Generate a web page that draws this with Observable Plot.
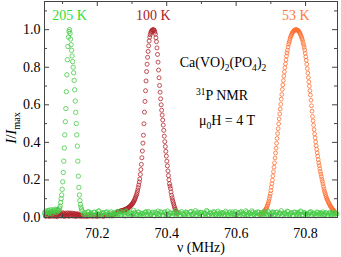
<!DOCTYPE html>
<html><head><meta charset="utf-8">
<script src="https://cdn.jsdelivr.net/npm/d3@7"></script>
<script src="https://cdn.jsdelivr.net/npm/@observablehq/plot@0.6"></script>
<style>html,body{margin:0;padding:0;background:#fff} svg{display:block}</style>
</head><body><div id="chart"></div>
<script>
// ---------- data (frequency in MHz, normalized intensity I/Imax) ----------
const tempLabels = ["205 K", "100 K", "53 K"];
const xTicks = [70.2, 70.4, 70.6, 70.8];
const xMinor = [70.1, 70.3, 70.5, 70.7];
const yTicks = [0, 0.2, 0.4, 0.6, 0.8, 1.0];
const yMinor = [0.1, 0.3, 0.5, 0.7, 0.9, 1.1];

// 205 K: left baseline, peak, right baseline (two interleaved sweeps)
const green205Left = [[70.048,.022],[70.050,.030],[70.052,.034],[70.054,.016],[70.056,.027],[70.058,.036],[70.060,.038],[70.062,.024],[70.064,.025],[70.066,.041],[70.068,.031],[70.070,.020],[70.072,.040],[70.074,.033],[70.076,.029],[70.078,.044],[70.080,.035],[70.082,.027],[70.084,.042],[70.086,.038],[70.088,.034]];
const green205Peak = [[70.0900,.040],[70.0915,.050],[70.0930,.060],[70.0945,.080],[70.0960,.100],[70.0975,.120],[70.0990,.150],[70.1005,.190],[70.1020,.240],[70.1035,.300],[70.1050,.370],[70.1065,.440],[70.1080,.510],[70.1095,.580],[70.1110,.670],[70.1125,.760],[70.1140,.840],[70.1155,.910],[70.1170,.960],[70.1185,.990],[70.1200,1.000],[70.1215,.980],[70.1230,.950],[70.1245,.920],[70.1260,.890],[70.1275,.860],[70.1290,.830],[70.1305,.800],[70.1320,.770],[70.1335,.730],[70.1350,.680],[70.1365,.620],[70.1380,.560],[70.1395,.500],[70.1410,.440],[70.1425,.380],[70.1440,.300],[70.1455,.220],[70.1470,.160],[70.1485,.120],[70.1500,.090],[70.1515,.070],[70.1530,.055],[70.1545,.045],[70.1560,.035]];
const green205Right = [[70.160,.018],[70.165,.026],[70.170,.012],[70.175,.031],[70.180,.020],[70.185,.015],[70.190,.028],[70.195,.010],[70.200,.022],[70.205,.035],[70.210,.016],[70.215,.024],[70.220,.009],[70.225,.027],[70.230,.019],[70.235,.013],[70.240,.030],[70.245,.021],[70.250,.011],[70.255,.025],[70.260,.017],[70.265,.033],[70.270,.014],[70.275,.023],[70.280,.008],[70.285,.029],[70.290,.019],[70.295,.026],[70.300,.012],[70.305,.038],[70.310,.020],[70.315,.015],[70.320,.027],[70.325,.010],[70.330,.022],[70.335,.018],[70.340,.031],[70.345,.013],[70.350,.024],[70.355,.016],[70.360,.028],[70.365,.009],[70.370,.021],[70.375,.034],[70.380,.017],[70.385,.025],[70.390,.012],[70.395,.030],[70.400,.019],[70.405,.014],[70.410,.026],[70.415,.011],[70.420,.023],[70.425,.036],[70.430,.018],[70.435,.027],[70.440,.010],[70.445,.022],[70.450,.015],[70.455,.029],[70.460,.020],[70.465,.013],[70.470,.032],[70.475,.017],[70.480,.024],[70.485,.009],[70.490,.028],[70.495,.019],[70.500,.026],[70.505,.012],[70.510,.021],[70.515,.037],[70.520,.016],[70.525,.025],[70.530,.011],[70.535,.030],[70.540,.018],[70.545,.023],[70.550,.014],[70.555,.027],[70.560,.020],[70.565,.010],[70.570,.033],[70.575,.017],[70.580,.024],[70.585,.013],[70.590,.029],[70.595,.019],[70.600,.015],[70.605,.026],[70.610,.011],[70.615,.031],[70.620,.022],[70.625,.016],[70.630,.028],[70.635,.012],[70.640,.021],[70.645,.035],[70.650,.018],[70.655,.025],[70.660,.010],[70.665,.027],[70.670,.019],[70.675,.014],[70.680,.032],[70.685,.020],[70.690,.016],[70.695,.024],[70.700,.012],[70.705,.029],[70.710,.018],[70.715,.026],[70.720,.011],[70.725,.023],[70.730,.036],[70.735,.017],[70.740,.021],[70.745,.013],[70.750,.030],[70.755,.019],[70.760,.025],[70.765,.010],[70.770,.028],[70.775,.016],[70.780,.022],[70.785,.034],[70.790,.014],[70.795,.027],[70.800,.019],[70.805,.012],[70.810,.024],[70.815,.031],[70.820,.017],[70.825,.020],[70.830,.009],[70.835,.026],[70.840,.022],[70.845,.015],[70.850,.029],[70.855,.018],[70.860,.023],[70.865,.012],[70.870,.027],[70.875,.016],[70.880,.021],[70.885,.025],[70.890,.019]];
const green205Right2 = [[70.1625,.022],[70.1675,.013],[70.1725,.029],[70.1775,.017],[70.1825,.024],[70.1875,.010],[70.1925,.027],[70.1975,.019],[70.2025,.033],[70.2075,.014],[70.2125,.021],[70.2175,.026],[70.2225,.011],[70.2275,.030],[70.2325,.018],[70.2375,.023],[70.2425,.008],[70.2475,.025],[70.2525,.016],[70.2575,.031],[70.2625,.020],[70.2675,.012],[70.2725,.028],[70.2775,.015],[70.2825,.035],[70.2875,.019],[70.2925,.024],[70.2975,.010],[70.3025,.022],[70.3075,.027],[70.3125,.013],[70.3175,.029],[70.3225,.017],[70.3275,.021],[70.3325,.009],[70.3375,.026],[70.3425,.018],[70.3475,.032],[70.3525,.014],[70.3575,.023],[70.3625,.011],[70.3675,.028],[70.3725,.020],[70.3775,.016],[70.3825,.030],[70.3875,.012],[70.3925,.025],[70.3975,.019],[70.4025,.034],[70.4075,.015],[70.4125,.022],[70.4175,.009],[70.4225,.027],[70.4275,.018],[70.4325,.024],[70.4375,.013],[70.4425,.031],[70.4475,.017],[70.4525,.020],[70.4575,.026],[70.4625,.010],[70.4675,.029],[70.4725,.016],[70.4775,.023],[70.4825,.036],[70.4875,.014],[70.4925,.021],[70.4975,.027],[70.5025,.012],[70.5075,.025],[70.5125,.018],[70.5175,.030],[70.5225,.011],[70.5275,.022],[70.5325,.019],[70.5375,.028],[70.5425,.015],[70.5475,.033],[70.5525,.020],[70.5575,.013],[70.5625,.026],[70.5675,.017],[70.5725,.024],[70.5775,.009],[70.5825,.029],[70.5875,.021],[70.5925,.016],[70.5975,.031],[70.6025,.012],[70.6075,.023],[70.6125,.027],[70.6175,.014],[70.6225,.020],[70.6275,.035],[70.6325,.018],[70.6375,.025],[70.6425,.010],[70.6475,.028],[70.6525,.016],[70.6575,.022],[70.6625,.030],[70.6675,.013],[70.6725,.026],[70.6775,.019],[70.6825,.024],[70.6875,.011],[70.6925,.032],[70.6975,.017],[70.7025,.021],[70.7075,.027],[70.7125,.014],[70.7175,.029],[70.7225,.018],[70.7275,.023],[70.7325,.009],[70.7375,.025],[70.7425,.020],[70.7475,.033],[70.7525,.015],[70.7575,.022],[70.7625,.012],[70.7675,.028],[70.7725,.019],[70.7775,.026],[70.7825,.016],[70.7875,.030],[70.7925,.013],[70.7975,.024],[70.8025,.021],[70.8075,.017],[70.8125,.027],[70.8175,.011],[70.8225,.023],[70.8275,.018],[70.8325,.029],[70.8375,.014],[70.8425,.025],[70.8475,.020],[70.8525,.016],[70.8575,.026],[70.8625,.012],[70.8675,.022],[70.8725,.019],[70.8775,.028],[70.8825,.015],[70.8875,.021]];

// 100 K: low-frequency background and main line
const red100Low = [[70.0500,.008],[70.0515,.016],[70.0530,.006],[70.0545,.020],[70.0560,.011],[70.0575,.024],[70.0590,.009],[70.0605,.018],[70.0620,.005],[70.0635,.022],[70.0650,.013],[70.0665,.025],[70.0680,.007],[70.0695,.019],[70.0710,.010],[70.0725,.023],[70.0740,.015],[70.0755,.006],[70.0770,.021],[70.0785,.012],[70.0800,.026],[70.0815,.008],[70.0830,.017],[70.0845,.004],[70.0860,.022],[70.0875,.014],[70.0890,.025],[70.0905,.009],[70.0920,.020],[70.0935,.011],[70.0950,.024],[70.0965,.007],[70.0980,.018],[70.0995,.013],[70.1010,.026],[70.1025,.010],[70.1040,.021],[70.1055,.005],[70.1070,.016],[70.1085,.023],[70.1100,.012],[70.1115,.019],[70.1130,.008],[70.1145,.025],[70.1160,.014],[70.1175,.020],[70.1190,.006],[70.1205,.022],[70.1220,.011],[70.1235,.024],[70.1250,.009],[70.1265,.017],[70.1280,.013],[70.1295,.023],[70.1310,.007],[70.1325,.019],[70.1340,.010],[70.1355,.021],[70.1370,.015],[70.1385,.005],[70.1400,.018],[70.1415,.012],[70.1430,.020],[70.1445,.008],[70.1460,.016],[70.1475,.011],[70.1490,.014],[70.1505,.006],[70.1520,.013],[70.1535,.009],[70.1550,.012],[70.1565,.007],[70.1580,.010],[70.162,.006],[70.166,.010],[70.170,.005],[70.174,.009],[70.178,.007],[70.182,.011],[70.186,.006],[70.190,.008],[70.194,.010],[70.198,.005],[70.202,.009],[70.206,.007],[70.210,.011],[70.214,.008],[70.218,.006],[70.222,.010],[70.226,.009],[70.230,.012],[70.234,.008],[70.238,.013],[70.242,.011],[70.246,.015],[70.250,.018],[70.254,.022]];
const red100Main = [[70.2580,.030],[70.2595,.031],[70.2610,.031],[70.2625,.032],[70.2640,.033],[70.2655,.033],[70.2670,.034],[70.2685,.035],[70.2700,.036],[70.2715,.037],[70.2730,.038],[70.2745,.038],[70.2760,.039],[70.2775,.040],[70.2790,.041],[70.2805,.043],[70.2820,.044],[70.2835,.045],[70.2850,.046],[70.2865,.048],[70.2880,.050],[70.2895,.052],[70.2910,.054],[70.2925,.056],[70.2940,.058],[70.2955,.061],[70.2970,.064],[70.2985,.067],[70.3000,.071],[70.3015,.074],[70.3030,.079],[70.3045,.083],[70.3060,.088],[70.3075,.094],[70.3090,.101],[70.3105,.108],[70.3120,.116],[70.3135,.124],[70.3150,.134],[70.3165,.146],[70.3180,.159],[70.3195,.173],[70.3210,.189],[70.3225,.205],[70.3240,.229],[70.3255,.255],[70.3270,.283],[70.3285,.318],[70.3300,.354],[70.3315,.396],[70.3330,.438],[70.3345,.499],[70.3360,.561],[70.3375,.618],[70.3390,.675],[70.3405,.727],[70.3420,.777],[70.3435,.816],[70.3450,.853],[70.3465,.884],[70.3480,.914],[70.3495,.940],[70.3510,.960],[70.3525,.973],[70.3540,.983],[70.3555,.990],[70.3570,.995],[70.3585,.998],[70.3600,.999],[70.3615,1.000],[70.3630,.998],[70.3645,.996],[70.3660,.987],[70.3675,.976],[70.3690,.957],[70.3705,.936],[70.3720,.903],[70.3735,.868],[70.3750,.827],[70.3765,.785],[70.3780,.744],[70.3795,.703],[70.3810,.667],[70.3825,.632],[70.3840,.600],[70.3855,.571],[70.3870,.545],[70.3885,.519],[70.3900,.492],[70.3915,.464],[70.3930,.433],[70.3945,.404],[70.3960,.378],[70.3975,.352],[70.3990,.327],[70.4005,.300],[70.4020,.275],[70.4035,.248],[70.4050,.223],[70.4065,.201],[70.4080,.180],[70.4095,.167],[70.4110,.154],[70.4125,.136],[70.4140,.118],[70.4155,.105],[70.4170,.092],[70.4185,.082],[70.4200,.072],[70.4215,.061],[70.4230,.052],[70.4245,.044],[70.4260,.036],[70.4275,.031],[70.4290,.026],[70.4305,.021]];

// 53 K line
const orange53 = [[70.6700,.015],[70.6715,.017],[70.6730,.018],[70.6745,.020],[70.6760,.022],[70.6775,.025],[70.6790,.027],[70.6805,.031],[70.6820,.034],[70.6835,.038],[70.6850,.043],[70.6865,.047],[70.6880,.053],[70.6895,.061],[70.6910,.069],[70.6925,.077],[70.6940,.087],[70.6955,.100],[70.6970,.113],[70.6985,.126],[70.7000,.143],[70.7015,.162],[70.7030,.180],[70.7045,.198],[70.7060,.221],[70.7075,.244],[70.7090,.268],[70.7105,.291],[70.7120,.317],[70.7135,.343],[70.7150,.369],[70.7165,.395],[70.7180,.421],[70.7195,.447],[70.7210,.473],[70.7225,.499],[70.7240,.525],[70.7255,.552],[70.7270,.578],[70.7285,.603],[70.7300,.630],[70.7315,.655],[70.7330,.682],[70.7345,.706],[70.7360,.729],[70.7375,.753],[70.7390,.776],[70.7405,.798],[70.7420,.818],[70.7435,.839],[70.7450,.860],[70.7465,.876],[70.7480,.891],[70.7495,.907],[70.7510,.922],[70.7525,.932],[70.7540,.942],[70.7555,.953],[70.7570,.962],[70.7585,.969],[70.7600,.975],[70.7615,.982],[70.7630,.987],[70.7645,.990],[70.7660,.993],[70.7675,.997],[70.7690,.998],[70.7705,.999],[70.7720,1.000],[70.7735,1.000],[70.7750,.999],[70.7765,.997],[70.7780,.996],[70.7795,.995],[70.7810,.990],[70.7825,.985],[70.7840,.980],[70.7855,.974],[70.7870,.966],[70.7885,.959],[70.7900,.951],[70.7915,.942],[70.7930,.930],[70.7945,.918],[70.7960,.906],[70.7975,.892],[70.7990,.874],[70.8005,.856],[70.8020,.837],[70.8035,.816],[70.8050,.793],[70.8065,.769],[70.8080,.745],[70.8095,.722],[70.8110,.699],[70.8125,.675],[70.8140,.652],[70.8155,.624],[70.8170,.595],[70.8185,.566],[70.8200,.538],[70.8215,.515],[70.8230,.491],[70.8245,.468],[70.8260,.445],[70.8275,.424],[70.8290,.403],[70.8305,.382],[70.8320,.363],[70.8335,.344],[70.8350,.326],[70.8365,.308],[70.8380,.291],[70.8395,.276],[70.8410,.260],[70.8425,.245],[70.8440,.231],[70.8455,.218],[70.8470,.204],[70.8485,.192],[70.8500,.179],[70.8515,.165],[70.8530,.152],[70.8545,.140],[70.8560,.131],[70.8575,.122],[70.8590,.112],[70.8605,.104],[70.8620,.097],[70.8635,.091],[70.8650,.084],[70.8665,.078],[70.8680,.073],[70.8695,.068],[70.8710,.062],[70.8725,.058],[70.8740,.054],[70.8755,.050],[70.8770,.046],[70.8785,.042],[70.8800,.039],[70.8815,.035],[70.8830,.031],[70.8845,.028]];

// ---------- styles & layout ----------
const W = 341, H = 257, ML = 44, MR = 4, MT = 1, MB = 40;
const xDomain = [70.048, 70.892], yDomain = [0, 1.15];
const C_GREEN = "#46cc46", C_GREEN_T = "#33dd33";
const C_RED = "#b3262f", C_RED_T = "#a81c26";
const C_ORANGE = "#ff6f30", C_ORANGE_T = "#ff7a3a";
const AXIS = "#444";
const kx = (W - ML - MR) / (xDomain[1] - xDomain[0]);
const ky = (H - MT - MB) / (yDomain[1] - yDomain[0]);
const MAJ = 5, MIN = 3;

const green = [...green205Left, ...green205Peak, ...green205Right, ...green205Right2];
const red = [...red100Low, ...red100Main];
const series = [
  {data: green, label: tempLabels[0], color: C_GREEN_T},
  {data: red, label: tempLabels[1], color: C_RED_T},
  {data: orange53, label: tempLabels[2], color: C_ORANGE_T}
];
const labelRows = series.map(s => {
  const top = s.data.reduce((a, b) => (b[1] > a[1] ? b : a));
  return {f: top[0], label: s.label, color: s.color};
});

const X = d => d[0], Y = d => d[1];
const fmt = d3.format(".1f");
const yTop = yDomain[1], xL = xDomain[0], xR = xDomain[1];

const chart = Plot.plot({
  width: W, height: H,
  marginLeft: ML, marginRight: MR, marginTop: MT, marginBottom: MB,
  style: {fontFamily: "'Liberation Serif', 'Times New Roman', serif", fontSize: "14px", color: "#000", background: "#fff"},
  x: {domain: xDomain},
  y: {domain: yDomain},
  marks: [
    Plot.dot(orange53, {x: X, y: Y, r: 1.9, stroke: C_ORANGE, strokeWidth: 0.8}),
    Plot.dot(red, {x: X, y: Y, r: 2, stroke: C_RED, strokeWidth: 0.8}),
    Plot.dot(green, {x: X, y: Y, r: 2.2, stroke: C_GREEN, strokeWidth: 0.8}),
    Plot.text(labelRows, {x: "f", y: 1.075, text: "label", fill: "color", fontSize: 14, textAnchor: "middle"}),
    // ticks (inward), bottom/top
    Plot.ruleX(xTicks, {y1: 0, y2: MAJ / ky, stroke: AXIS}),
    Plot.ruleX(xMinor, {y1: 0, y2: MIN / ky, stroke: AXIS}),
    Plot.ruleX(xTicks, {y1: yTop, y2: yTop - MAJ / ky, stroke: AXIS}),
    Plot.ruleX(xMinor, {y1: yTop, y2: yTop - MIN / ky, stroke: AXIS}),
    // ticks (inward), left/right
    Plot.ruleY(yTicks, {x1: xL, x2: xL + MAJ / kx, stroke: AXIS}),
    Plot.ruleY(yMinor, {x1: xL, x2: xL + MIN / kx, stroke: AXIS}),
    Plot.ruleY(yTicks, {x1: xR, x2: xR - MAJ / kx, stroke: AXIS}),
    Plot.ruleY(yMinor, {x1: xR, x2: xR - MIN / kx, stroke: AXIS}),
    Plot.frame({stroke: AXIS}),
    Plot.axisX({ticks: xTicks, tickSize: 0, tickPadding: 11, tickFormat: fmt, label: null, fontSize: 14}),
    Plot.axisY({ticks: yTicks, tickSize: 0, tickPadding: 4, tickFormat: fmt, label: null, fontSize: 14})
  ]
});
document.getElementById("chart").appendChild(chart);

// ---------- rich-text annotations (sub/superscripts) ----------
const svg = d3.select(chart);
const sx = chart.scale("x"), sy = chart.scale("y");
function richText(x, y, parts, size, anchor, transform) {
  const t = svg.append("text").attr("x", x).attr("y", y)
    .attr("text-anchor", anchor).attr("font-size", size).attr("fill", "#000");
  if (transform) t.attr("transform", transform);
  let shift = 0;
  for (const [s, kind] of parts) {
    const target = kind === "sub" ? size * 0.28 : kind === "sup" ? -size * 0.38 : 0;
    const ts = t.append("tspan").text(s).attr("dy", target - shift);
    if (kind === "sub" || kind === "sup") ts.attr("font-size", size * 0.68);
    if (kind === "it") ts.attr("font-style", "italic");
    shift = target;
  }
  return t;
}
richText(sx.apply(70.5636), sy.apply(0.796),
  [["Ca(VO)", ""], ["2", "sub"], ["(PO", ""], ["4", "sub"], [")", ""], ["2", "sub"]], 14, "middle");
richText(sx.apply(70.5607), sy.apply(0.621),
  [["31", "sup"], ["P NMR", ""]], 14, "middle");
richText(sx.apply(70.575), sy.apply(0.488),
  [["μ", ""], ["0", "sub"], ["H", ""], [" = 4 T", ""]], 14, "middle");
// axis titles
richText(201, 252, [["ν (MHz)", ""]], 14, "middle");
richText(0, 0, [["I", "it"], ["/", ""], ["I", "it"], ["max", "sub"]], 15, "middle", "translate(16,128) rotate(-90)");
</script>
</body></html>
